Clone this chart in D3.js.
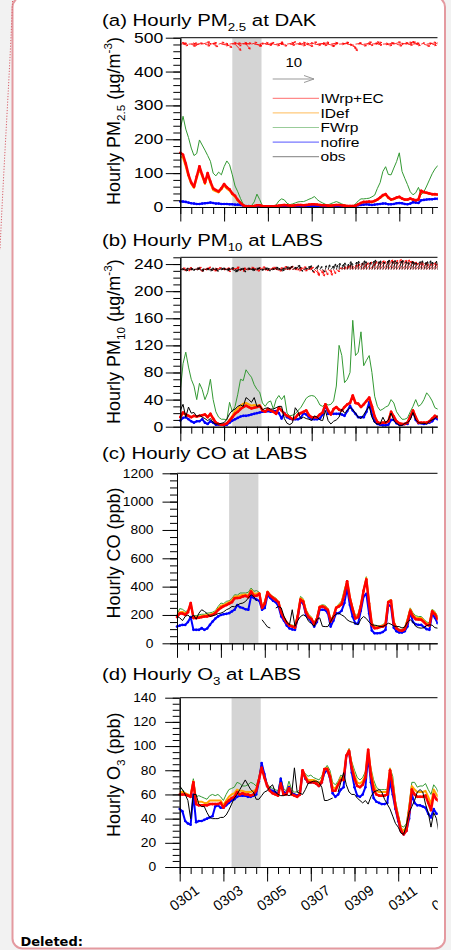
<!DOCTYPE html>
<html>
<head>
<meta charset="utf-8">
<script src="https://cdn.jsdelivr.net/npm/d3@7"></script>
<style>
  body { margin: 0; background: #f2f2f2; width: 451px; height: 950px; overflow: hidden; }
  svg text { font-family: "Liberation Sans", Arial, sans-serif; }
</style>
</head>
<body>
<svg id="fig" width="451" height="950"></svg>
<script>
// time step of the series (hours), series start 0301 00h
var stepHours = 3;
var dayLabels = ['0301', '0303', '0305', '0307', '0309', '0311', '0313'];
var legendNames = ['IWrp+EC', 'IDef', 'FWrp', 'nofire', 'obs'];
var shadeStartHour = 57, shadeEndHour = 89;
var refVector = 10;

// (a) PM2.5 at DAK
var pm25Red = [160,154,128,95,72,60,90,120,95,72, 100,75,55,50,46,55,68,58,52,40, 33,21,12,5,2,2,2,3,5,5,
  3,2,2,2,2,3,4,5,6,5, 4,4,5,6,6,5,6,7,8,8, 7,6,5,5,4,4,5,6,6,5, 4,3,3,3,4,8,12,15,15,16,
  15,18,22,28,35,38,28,22,24,28, 30,25,22,22,25,22,20,22,48,44, 42,40,38,38,37,38];
var pm25Orange = [150,145,120,90,68,56,85,112,90,68, 95,70,50,46,43,52,64,54,48,37, 30,19,11,5,2,2,2,3,4,4,
  3,2,2,2,2,3,4,5,5,5, 4,4,5,5,6,5,6,7,7,7, 7,6,5,5,4,4,5,5,6,5, 4,3,3,3,4,7,11,14,14,15,
  14,17,21,27,33,36,27,21,23,27, 29,24,21,21,24,21,19,21,46,43, 41,39,37,37,36,37];
var pm25Green = [230,268,230,205,174,152,158,198,183,168, 152,135,100,92,103,95,119,136,125,95, 62,45,25,8,2,1,4,15,38,22,
  3,1,1,1,2,6,18,24,21,11, 7,9,12,15,16,16,19,23,26,31, 22,16,12,8,6,10,13,16,13,9, 6,4,2,3,9,18,24,24,25,26,
  30,35,55,72,105,119,96,95,115,134, 160,105,85,66,45,36,42,58,36,45, 62,80,98,112,122,126];
var pm25Blue = [16,16,15,13,11,10,9,9,10,11, 12,13,12,10,10,9,9,9,8,8, 7,7,6,4,3,3,2,2,2,2,
  2,2,2,2,2,2,2,2,2,2, 2,2,2,2,2,2,2,2,2,2, 2,2,2,2,2,2,2,2,2,2, 2,2,2,2,3,5,6,7,8,7,
  6,7,8,9,10,10,8,8,9,11, 12,11,9,8,10,14,13,12,20,21, 22,23,23,24,24,24];
var windAU = [1.5,1.2,-0.8,1.6,1.0,0.6,1.4,-1.0,1.8,1.2, 0.8,1.5,1.1,-0.6,1.3,1.7,0.9,1.2,1.6,2.0, 1.4,0.8,1.5,1.9,1.0,-0.7,1.3,1.8,1.1,0.9,
  1.4,1.6,1.2,0.8,1.5,1.7,1.0,1.3,-0.9,1.6, 1.2,0.7,1.4,1.8,1.1,1.3,1.6,0.9,1.2,1.5, 1.9,2.2,1.0,0.8,1.4,1.6,1.1,-0.8,1.3,1.7,
  0.9,1.2,1.5,1.1,1.4,0.7,1.3,1.6,1.2,0.9, 1.4,1.7,1.1,-0.6,1.3,1.5,1.2,0.8,1.6,1.3, 1.0,1.4,1.7,1.2,0.9,1.5,1.1,-1.2,0.8,1.4, 1.2,1.6,1.0,1.3,1.5,1.1];
var windAV = [0.2,-0.3,0.4,0.1,-0.5,0.3,0.2,-0.2,0.5,-0.4, 0.1,0.3,-0.6,0.2,0.4,-0.3,0.1,-0.8,0.3,0.2, -1.5,-0.4,0.3,0.2,-1.2,0.1,0.4,-0.3,-0.5,0.2,
  0.3,-0.2,0.1,0.4,-0.3,0.2,0.5,-0.4,0.1,0.3, -0.2,0.6,0.2,-0.3,0.4,0.1,-0.5,0.3,0.5,-0.2, 0.2,0.4,-0.3,0.1,-0.4,0.3,0.2,-0.6,0.1,0.4,
  0.3,-0.2,-1.0,-1.6,0.2,0.3,-0.4,0.1,0.5,-0.3, 0.2,0.4,-0.2,0.6,0.1,-0.3,0.3,0.2,0.5,-0.4, 0.1,0.3,0.4,-0.2,0.6,0.2,-0.3,0.5,0.3,-0.5, 0.2,0.4,-0.3,0.6,0.2,0.1];

// (b) PM10 at LABS
var pm10Red = [14,21,18,16,14,16,15,16,17,18, 14,19,12,6,4,3,3,5,9,14, 19,22,26,29,31,29,27,28,29,31,
  24,22,26,24,22,19,28,24,19,16, 14,11,13,18,20,22,24,17,14,14, 14,18,21,33,24,18,26,29,25,24,
  29,33,35,46,35,34,29,33,38,43, 30,15,7,5,6,6,8,22,15,8, 5,4,4,6,15,24,14,6,6,6, 6,8,12,16,14,14];
var pm10Orange = [14,20,18,16,14,16,15,16,17,18, 14,19,12,6,4,3,3,5,10,16, 23,27,31,34,35,33,31,32,31,32,
  25,22,26,24,22,19,28,24,19,16, 14,11,13,18,20,22,24,17,14,14, 14,18,21,33,24,18,26,29,25,24,
  29,33,35,45,35,34,29,33,38,42, 30,15,7,5,6,6,8,22,15,8, 5,4,4,6,15,24,14,6,6,6, 6,8,12,16,14,14];
var pm10Green = [53,93,110,88,70,60,40,64,55,40, 50,70,40,22,14,11,11,10,36,22, 30,48,70,68,84,78,73,62,55,51,
  35,30,36,38,26,40,46,40,46,20, 16,17,19,24,28,35,42,45,46,45, 40,32,30,34,32,33,38,60,120,105,
  65,70,80,157,105,110,140,90,98,105, 80,45,30,24,26,29,31,40,35,22, 16,11,11,13,22,30,40,30,33,40, 50,45,38,28,26,26];
var pm10Blue = [9,13,14,11,8,6,8,8,11,6, 4,8,6,3,3,3,2,3,6,9, 11,13,15,16,16,17,18,19,20,21,
  22,22,23,22,23,23,20,12,20,14, 12,11,11,11,13,20,18,14,11,11, 11,12,18,32,19,19,19,19,19,18,
  16,23,31,24,19,14,14,14,22,36, 18,8,4,3,2,2,3,10,10,5, 3,3,4,4,14,22,10,5,5,4, 5,6,8,13,11,11];
var pm10Obs = [24,33,14,29,20,21,15,17,14,12, 9,12,6,4,4,5,6,11,19,24, 26,30,32,30,43,40,36,43,30,31,
  25,27,28,26,26,28,30,30,12,5, 3,6,28,22,12,14,12,11,9,16, 14,10,9,24,9,4,8,10,14,26,
  20,24,28,25,20,14,12,18,24,30, 14,6,4,4,14,6,10,20,9,5, 2,2,5,6,10,21,10,6,5,5, 4,8,10,12,16,16];
var windBU = [1.2,0.8,1.5,1.0,-0.6,1.3,1.1,0.9,1.4,1.2, 0.7,1.5,1.0,1.3,-0.8,1.1,1.4,0.9,1.2,1.6, 1.0,0.8,1.3,1.5,-0.7,1.2,1.0,1.4,0.9,1.3,
  1.1,0.8,1.5,1.2,1.0,1.4,0.9,1.3,1.6,1.1, 0.8,1.2,1.5,1.0,1.3,0.9,1.4,1.1,0.7,1.2, 0.5,0.8,0.4,0.6,0.9,0.3,0.5,0.8,0.6,1.0,
  1.1,0.9,0.8,1.1,1.0,1.2,1.4,1.1,1.3,1.5, 1.2,1.4,1.6,1.3,1.5,1.7,1.4,1.6,1.8,1.5, 1.7,1.8,1.6,1.4,1.5,1.3,1.6,1.2,1.4,1.1, 1.3,1.5,1.2,1.1,1.3,1.2];
var windBV = [0.3,-0.2,0.4,0.1,-0.3,0.2,0.5,-0.4,0.1,0.3, 0.6,-0.2,0.2,0.4,-0.3,0.1,0.3,-0.5,0.2,0.4, 0.6,-0.2,0.3,0.1,-0.4,0.5,0.2,-0.3,0.4,0.6,
  0.1,-0.2,0.3,0.5,0.2,-0.3,0.4,0.7,0.2,0.5, 0.8,0.3,-0.2,0.4,0.6,-0.3,0.2,0.5,-0.8,-1.2, -1.5,-0.9,-1.6,-1.3,-0.6,-1.4,-1.0,-0.5,0.4,0.6,
  0.8,1.0,0.7,1.1,1.3,1.5,1.2,1.6,1.8,1.4, 1.9,1.7,2.1,1.9,2.0,2.3,2.0,2.2,2.4,2.1, 2.2,2.3,2.0,1.9,1.8,1.5,1.7,1.4,1.6,1.2, 1.4,1.6,1.3,1.2,1.4,1.3];
var windBObsU = [0.8,1.2,0.6,1.0,0.9,1.3,0.7,1.1,0.5,0.9, 1.2,0.8,1.0,0.6,1.1,0.9,1.3,0.7,1.0,1.2, 0.8,1.1,0.9,0.6,1.0,1.3,0.8,1.1,0.7,0.9,
  1.2,1.0,0.6,0.8,1.1,0.9,1.3,0.7,1.0,0.8, 0.6,0.9,1.1,0.7,0.5,0.8,1.0,0.6,0.4,0.7, 0.3,0.5,0.6,0.2,0.4,0.7,0.5,0.3,0.2,0.4,
  0.1,0.3,0.2,-0.2,0.3,0.1,0.4,0.2,-0.1,0.3, 0.5,0.2,0.4,0.1,0.3,0.6,0.2,0.4,0.3,0.1, 0.5,0.2,0.4,0.3,0.6,0.2,0.1,0.4,0.3,0.5, 0.2,0.3,0.1,0.4,0.2,0.3];
var windBObsV = [0.1,-0.2,0.3,0.2,-0.1,0.2,0.4,-0.3,0.1,0.2, -0.2,0.3,0.1,-0.4,0.2,0.3,-0.1,0.2,0.4,-0.5, -0.3,0.1,0.2,-0.6,0.3,0.1,-0.2,0.2,0.4,-0.1,
  0.3,0.2,-0.3,0.1,0.5,0.2,-0.2,0.3,0.6,0.4, 0.8,0.5,1.0,0.6,-0.4,0.3,0.7,0.9,-0.5,0.6, 1.0,0.7,-0.6,0.9,1.1,0.8,1.3,1.0,1.5,1.2,
  1.6,1.3,1.9,1.5,1.8,2.0,1.6,2.1,1.9,1.7, 2.0,2.3,1.9,2.1,1.8,2.0,2.3,1.9,2.2,1.8, 2.0,2.2,1.9,1.7,2.0,1.8,1.6,1.9,2.1,1.7, 1.9,2.1,1.8,2.0,1.6,1.8];

// (c) CO at LABS
var coRed = [185,210,210,200,220,284,178,178,180,185, 189,190,195,200,213,235,250,262,270,280, 290,318,320,322,331,335,325,365,335,335,
  350,250,280,360,335,320,305,290,215,175, 145,125,118,110,189,308,295,220,185,170, 135,170,255,260,250,235,154,185,250,260,
  275,343,438,320,240,175,185,260,370,450, 280,130,107,108,115,118,130,290,300,140, 105,92,88,100,150,230,190,170,168,166, 150,130,125,225,205,170];
var coOrange = [190,220,222,210,225,280,185,185,188,192, 196,200,204,208,220,245,265,270,282,290, 302,330,330,338,342,345,340,375,350,352,
  355,255,290,365,340,325,312,290,220,182, 148,130,122,118,200,318,305,230,195,178, 138,178,260,265,258,240,160,192,252,268,
  288,360,440,325,250,185,195,270,375,460, 290,140,115,113,120,124,140,295,305,150, 110,96,92,105,165,240,200,182,178,178, 160,140,135,232,215,180];
var coGreen = [200,245,240,225,230,272,195,195,200,205, 205,213,215,220,230,260,284,280,296,300, 315,343,340,355,355,355,360,390,367,372,
  360,262,300,370,345,330,320,290,225,189, 150,135,128,125,213,331,315,240,205,185, 142,189,265,272,268,245,166,200,255,278,
  300,380,440,330,260,195,205,280,380,470, 300,150,122,118,125,130,150,300,310,160, 115,100,97,110,178,250,215,195,189,189, 170,150,145,240,225,190];
var coBlue = [118,125,130,130,150,185,95,95,95,107, 95,105,130,154,175,190,200,205,208,213, 225,237,270,255,249,240,237,331,320,308,
  300,237,250,340,320,300,290,260,190,160, 125,105,98,95,178,296,280,200,178,150, 118,150,237,237,235,213,118,160,213,213,
  230,284,390,270,189,140,140,230,330,350, 210,90,71,71,72,80,95,272,260,110, 85,76,76,85,118,220,150,135,130,130, 115,100,95,210,180,142];
var coObs = [189,180,160,190,200,178,200,170,213,237, 225,210,189,195,200,210,213,222,237,245, 260,258,270,280,284,296,320,343,330,300,
  null,166,140,115,108,null,249,260,250,189, 150,130,237,120,160,189,201,190,154,140, 120,170,180,120,118,118,154,189,205,213,
  200,189,166,154,148,140,130,170,189,175, 150,130,128,125,118,118,128,142,135,122, 118,118,108,115,150,166,150,120,110,107, 110,125,130,128,110,107];

// (d) O3 at LABS
var o3Red = [60,60,60,59,58,70,52,51,51,51, 51,52,52,52,52,53,49,53,55,57, 58,62,60,61,60,60,59,60,63,72,
  82,74,67,63,61,60,59,69,60,60, 65,60,59,58,60,80,74,70,70,70, 69,67,70,81,81,75,63,63,68,72,
  72,92,96,82,73,67,66,68,74,97, 76,64,60,59,59,59,60,80,66,50, 40,30,27,30,45,64,60,58,58,58, 59,53,47,60,56,54];
var o3Orange = [62,62,61,60,59,71,54,54,54,53, 53,55,55,55,55,55,51,55,58,60, 61,64,63,63,62,62,62,63,64,73,
  84,75,68,64,62,61,60,71,62,61, 67,62,60,59,61,80,75,72,72,72, 71,69,72,81,82,77,66,65,69,74,
  73,92,97,84,76,70,69,71,76,97, 79,68,63,62,62,62,62,81,70,52, 42,32,30,33,48,67,64,62,62,62, 63,58,52,64,60,57];
var o3Green = [66,64,61,60,60,73,58,59,58,57, 56,59,60,59,60,58,55,60,64,65, 66,70,69,67,67,68,70,69,67,74,
  86,77,69,66,65,64,63,74,65,63, 71,64,62,62,64,80,77,75,76,74, 73,72,75,81,84,80,70,68,71,76,
  74,92,98,87,80,74,72,74,79,96, 82,72,66,64,64,64,64,82,75,55, 44,34,33,36,52,70,70,66,67,67, 69,64,60,68,65,60];
var o3Blue = [48,46,38,36,35,60,37,38,38,39, 40,41,42,50,51,49,49,51,53,55, 56,58,59,59,59,58,58,59,60,71,
  86,77,67,64,63,62,60,73,62,61, 66,61,60,59,60,79,73,70,70,70, 69,67,70,78,80,74,61,58,60,64,
  66,92,95,78,66,59,58,60,66,92, 70,57,54,53,52,52,53,71,60,48, 38,30,27,30,40,60,53,51,51,50, 49,44,41,48,44,44];
var o3Obs = [67,64,60,55,40,60,60,52,50,50, 45,41,40,40,40,41,41,43,47,52, 57,60,64,68,72,68,64,62,56,56,
  59,62,63,66,68,62,60,59,59,60, 59,60,82,62,61,60,64,69,70,71, 71,70,66,55,55,56,57,null,62,70,
  78,68,62,60,60,57,55,53,55,52, 58,62,63,64,62,56,52,48,42,36, 33,28,27,35,45,50,55,62,64,62, 52,45,33,45,40,27];

var colors = { red: '#ff0000', orange: '#ffa500', green: '#339933', blue: '#0000ff', obs: '#000000' };
var legendColors = ['#ff8a8a', '#ffc97a', '#99cc99', '#7777ff', '#999999'];

var panels = [
  { title: [['(a) Hourly PM'], ['2.5', 'sub'], [' at DAK']], ylab: [['Hourly PM'], ['2.5', 'sub'], [' (µg/m'], ['-3', 'sup'], [')']],
    top: 37.7, bottom: 207, left: 180.3, dayPx: 21.9, ymax: 500, major: 100, minor: 20, titleY: 26, ylabY: 121, pad: 2.5, tickFont: 14, tickSx: 1.25,
    series: { green: pm25Green, orange: pm25Orange, blue: pm25Blue, red: pm25Red },
    wind: [{ u: windAU, v: windAV, color: '#ff0000' }], windBase: 481 },
  { title: [['(b) Hourly PM'], ['10', 'sub'], [' at LABS']], ylab: [['Hourly PM'], ['10', 'sub'], [' (µg/m'], ['-3', 'sup'], [')']],
    top: 257.3, bottom: 426.7, left: 180.3, dayPx: 21.9, ymax: 250, major: 40, minor: 10, titleY: 246, ylabY: 341.7, pad: 2.5, tickFont: 14, tickSx: 1.25,
    series: { green: pm10Green, orange: pm10Orange, blue: pm10Blue, red: pm10Red, obs: pm10Obs },
    wind: [{ u: windBU, v: windBV, color: '#ff0000' }, { u: windBObsU, v: windBObsV, color: '#000000' }], windBase: 232 },
  { title: [['(c) Hourly CO at LABS']], ylab: [['Hourly CO (ppb)']],
    top: 473.3, bottom: 643.3, left: 177, dayPx: 21.95, ymax: 1200, major: 200, minor: 50, titleY: 459, ylabY: 553, pad: 9, tickFont: 12, tickSx: 1.15,
    series: { green: coGreen, orange: coOrange, blue: coBlue, red: coRed, obs: coObs } },
  { title: [['(d) Hourly O'], ['3', 'sub'], [' at LABS']], ylab: [['Hourly O'], ['3', 'sub'], [' (ppb)']],
    top: 697.7, bottom: 867, left: 179.7, dayPx: 21.85, ymax: 140, major: 20, minor: 5, titleY: 680, ylabY: 774.7, pad: 9, tickFont: 12, tickSx: 1.15,
    series: { green: o3Green, orange: o3Orange, blue: o3Blue, red: o3Red, obs: o3Obs }, xlabels: true }
];

var svg = d3.select('#fig');
var clipRight = 437.7;
var windScale = 4.15;   // px per m/s (10 m/s reference arrow ~41.5 px)

// page frame (its top edge sits just above the window)
svg.append('rect').attr('x', 12.5).attr('y', -3).attr('width', 432.5).attr('height', 951.5).attr('rx', 10)
  .attr('fill', '#fff').attr('stroke', '#e49aa0').attr('stroke-width', 2);
svg.append('path').attr('d', 'M12.5,1 C10,70 4,160 0,250').attr('fill', 'none')
  .attr('stroke', '#d8606a').attr('stroke-width', 1).attr('stroke-dasharray', '1.2 1.6');
svg.append('text').attr('x', 20.5).attr('y', 946).style('font-family', '"DejaVu Sans", Verdana, sans-serif')
  .attr('font-weight', 'bold').attr('font-size', 13).text('Deleted:');

svg.append('clipPath').attr('id', 'cut').append('rect').attr('x', 0).attr('y', 0).attr('width', clipRight).attr('height', 950);
var chart = svg.append('g').attr('clip-path', 'url(#cut)');

function rich(sel, parts, size) {
  var shift = 0;
  parts.forEach(function (p) {
    var want = p[1] === 'sub' ? size * 0.3 : p[1] === 'sup' ? -size * 0.42 : 0;
    sel.append('tspan').attr('dy', want - shift).attr('font-size', p[1] ? size * 0.65 : size).text(p[0]);
    shift = want;
  });
}

// horizontally stretched text, the NCL font is wider than Arial
function wideText(g, x, y, sx) {
  return g.append('text').attr('transform', 'translate(' + x + ',' + y + ') scale(' + sx + ',1)');
}

function drawWind(g, x, yb, w) {
  w.u.forEach(function (u, i) {
    var v = w.v[i];
    var x0 = x(i * stepHours / 24), x1 = x0 + u * windScale, y1 = yb - v * windScale;
    var ang = Math.atan2(y1 - yb, x1 - x0);
    var h = Math.min(2.2, Math.hypot(x1 - x0, y1 - yb) * 0.45);
    var d = 'M' + x0 + ',' + yb + 'L' + x1 + ',' + y1 +
      'M' + (x1 - h * Math.cos(ang + 0.5)) + ',' + (y1 - h * Math.sin(ang + 0.5)) + 'L' + x1 + ',' + y1 +
      'L' + (x1 - h * Math.cos(ang - 0.5)) + ',' + (y1 - h * Math.sin(ang - 0.5));
    g.append('path').attr('d', d).attr('fill', 'none').attr('stroke', w.color).attr('stroke-width', 0.8);
  });
}

panels.forEach(function (p) {
  var g = chart.append('g');
  var x = d3.scaleLinear().domain([0, 12]).range([p.left, p.left + 12 * p.dayPx]);
  var y = d3.scaleLinear().domain([0, p.ymax]).range([p.bottom, p.top]);

  g.append('rect').attr('x', x(shadeStartHour / 24)).attr('y', p.top)
    .attr('width', x(shadeEndHour / 24) - x(shadeStartHour / 24)).attr('height', p.bottom - p.top).attr('fill', '#d4d4d4');

  var line = d3.line().defined(function (d) { return d != null; })
    .x(function (d, i) { return x(i * stepHours / 24); }).y(function (d) { return y(d); });

  [['green', 1], ['orange', 2], ['blue', 2], ['red', 2.5], ['obs', 1]].forEach(function (s) {
    var vals = p.series[s[0]];
    if (!vals) return;
    g.append('path').datum(vals).attr('d', line).attr('fill', 'none')
      .attr('stroke', colors[s[0]]).attr('stroke-width', s[1]).attr('stroke-linejoin', 'round');
    if (s[0] === 'blue' || s[0] === 'red') {
      g.selectAll(null).data(vals).enter().append('circle')
        .attr('cx', function (d, i) { return x(i * stepHours / 24); }).attr('cy', function (d) { return y(d); })
        .attr('r', 1.3).attr('fill', colors[s[0]]);
    }
  });

  if (p.wind) p.wind.forEach(function (w) { drawWind(g, x, y(p.windBase), w); });

  // axes
  var yMinor = d3.axisLeft(y).tickValues(d3.range(0, p.ymax + 1e-6, p.minor)).tickSize(7).tickSizeOuter(0).tickFormat('');
  var yMajor = d3.axisLeft(y).tickValues(d3.range(0, p.ymax + 1e-6, p.major)).tickSize(14.5).tickSizeOuter(0)
    .tickPadding(p.pad).tickFormat(d3.format('d'));
  var xMinor = d3.axisBottom(x).tickValues(d3.range(0, 12.01, 0.5)).tickSize(7).tickSizeOuter(0).tickFormat('');
  var xMajor = d3.axisBottom(x).tickValues(d3.range(0, 12.01, 2)).tickSize(14.5).tickSizeOuter(0)
    .tickFormat(function (d, i) { return p.xlabels ? dayLabels[i] : ''; });

  g.append('g').attr('transform', 'translate(' + p.left + ',0)').call(yMinor);
  var ya = g.append('g').attr('transform', 'translate(' + p.left + ',0)').call(yMajor);
  ya.selectAll('text').attr('font-size', p.tickFont).attr('fill', '#000').attr('x', 0)
    .attr('transform', 'translate(' + (-14.5 - p.pad) + ',0) scale(' + p.tickSx + ',1)')
    .style('font-family', '"Liberation Sans", Arial, sans-serif');
  g.append('g').attr('transform', 'translate(0,' + p.bottom + ')').call(xMinor);
  var xa = g.append('g').attr('transform', 'translate(0,' + p.bottom + ')').call(xMajor);
  xa.selectAll('text').attr('font-size', 14.5).attr('fill', '#000').attr('y', 0).attr('dy', '0.35em')
    .attr('transform', 'translate(4,31) rotate(-36)').style('font-family', '"Liberation Sans", Arial, sans-serif');
  g.selectAll('.domain').attr('stroke', '#000');
  g.selectAll('.tick line').attr('stroke', '#000');
  g.append('line').attr('x1', p.left).attr('x2', clipRight).attr('y1', p.top).attr('y2', p.top)
    .attr('stroke', '#333').attr('stroke-width', 1.2);

  // titles
  rich(wideText(g, 102, p.titleY, 1.2), p.title, 17);
  rich(g.append('text').attr('text-anchor', 'middle')
    .attr('transform', 'translate(120,' + p.ylabY + ') rotate(-90)'), p.ylab, 18);
});

// legend + reference vector, panel (a)
var leg = chart.append('g');
wideText(leg, 285.5, 66.5, 1.15).attr('font-size', 13).text(refVector);
leg.append('path').attr('d', 'M272.7,79L314,79M304,75.5L314,79L304,82.5').attr('fill', 'none')
  .attr('stroke', '#999').attr('stroke-width', 1);
legendNames.forEach(function (n, i) {
  var yy = 98.3 + i * 14.6;
  leg.append('line').attr('x1', 272.7).attr('x2', 319).attr('y1', yy).attr('y2', yy)
    .attr('stroke', legendColors[i]).attr('stroke-width', 1.2);
  wideText(leg, 320.5, yy + 4.6, 1.2).attr('font-size', 13).text(n);
});
</script>
</body>
</html>
